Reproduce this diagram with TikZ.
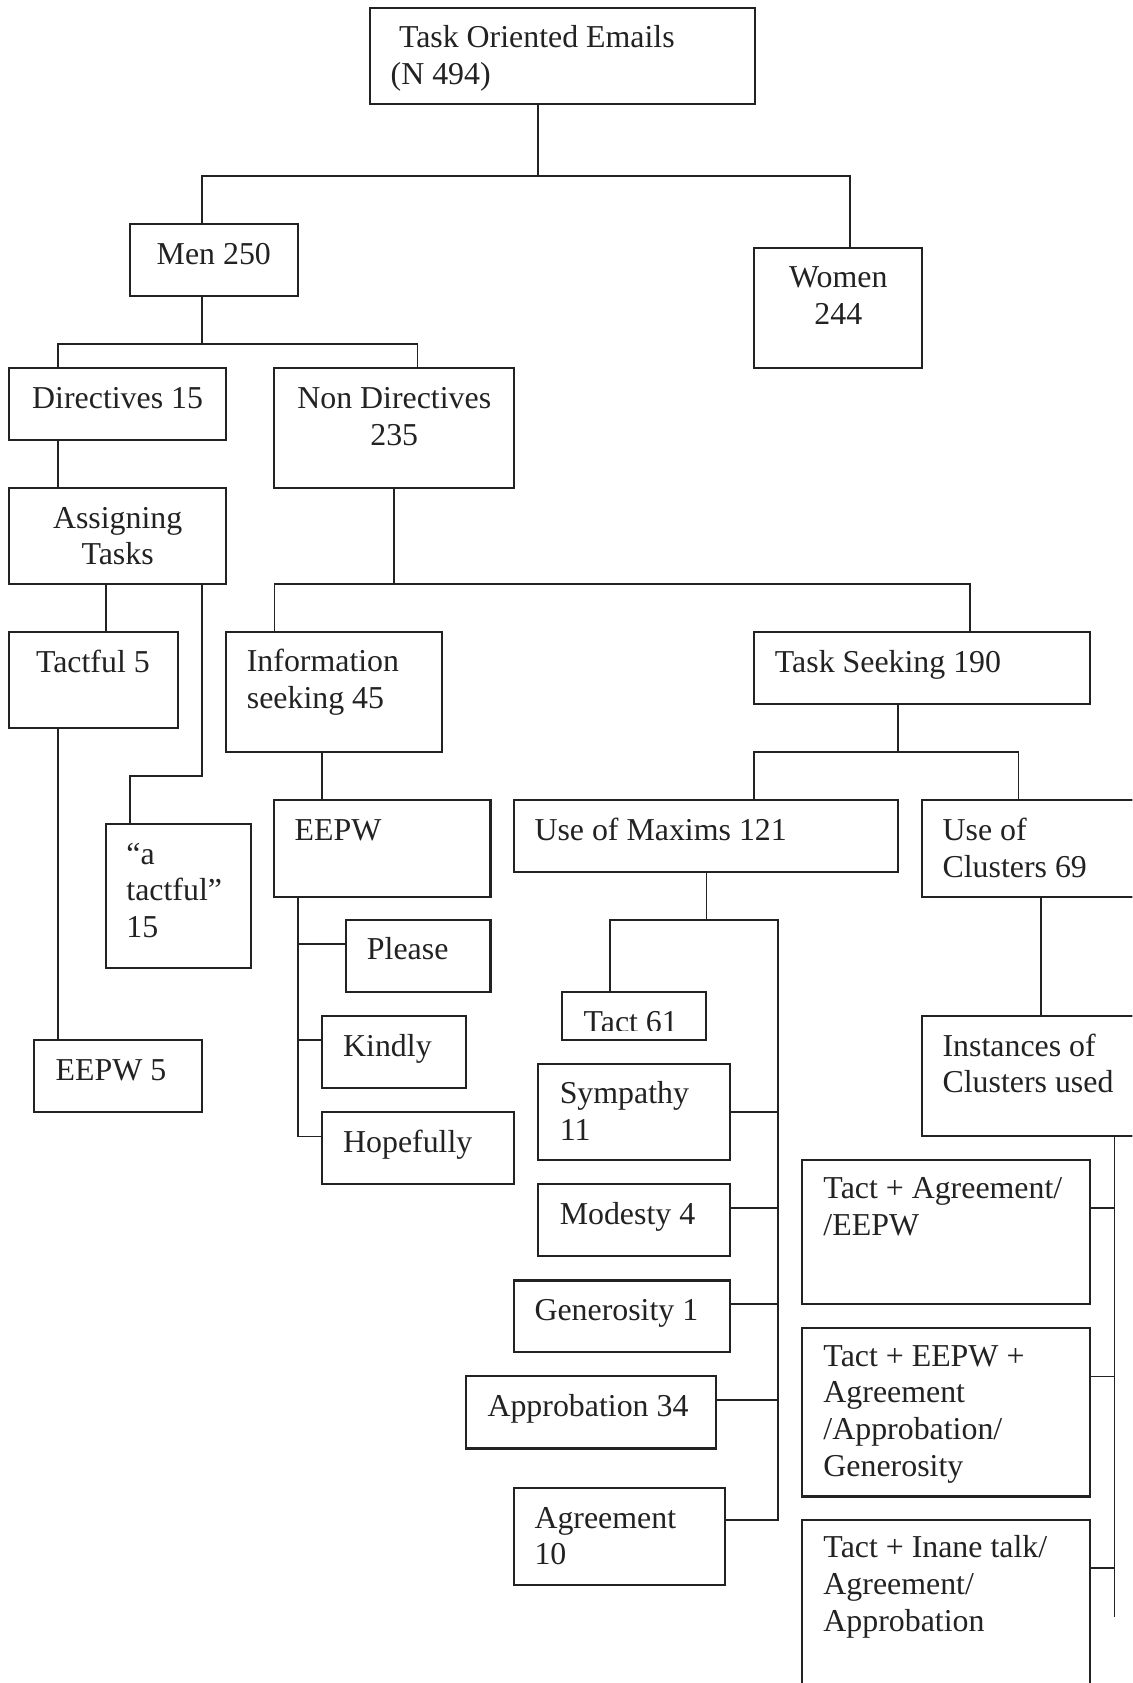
\documentclass[tikz,border=0pt]{standalone}
\usepackage{fontspec}
\setmainfont{Liberation Serif}
\definecolor{ink}{RGB}{34,34,34}
\newcommand{\dfont}{\fontsize{16.9}{19.4}\selectfont}
\newcommand{\mkbox}[5]{\node[bx, minimum width={(#4-#2)*0.02cm}, minimum height={(#5-#3)*0.02cm}] (#1) at ({(#2+#4)/2},{(#3+#5)/2}) {};}
\newcommand{\txtL}[4]{\node[lbl, anchor=north west, align=left] (#1) at (#2,{#3-22.85}) {\rule{0pt}{13pt}#4};}
\newcommand{\txtC}[4]{\node[lbl, anchor=north, align=center] (#1) at (#2,{#3-22.85}) {\rule{0pt}{13pt}#4};}
\begin{document}
\begin{tikzpicture}[x=0.02cm, y=-0.02cm,
  bx/.style={draw=ink, line width=1.1pt, inner sep=0pt, outer sep=0pt},
  lbl/.style={inner sep=0pt, outer sep=0pt, font=\dfont, text=ink},
  conn/.style={draw=ink, line width=0.9pt}]
\useasboundingbox (0,0) rectangle (1055,1568);
\fill[white] (0,0) rectangle (1055,1568);
\clip (0,0) rectangle (1055,1568);

% boxes
\mkbox{top}{344.8}{7.1}{703.2}{96.6}
\mkbox{men}{121}{208.6}{277.4}{275.7}
\mkbox{women}{702.6}{230.7}{859.4}{342.7}
\mkbox{dir}{8.7}{342.7}{210.6}{409.8}
\mkbox{nondir}{255.7}{342.7}{479}{454.7}
\mkbox{assign}{8.7}{454.7}{210.6}{544.2}
\mkbox{tactful}{8.7}{588.6}{166.2}{678.4}
\mkbox{info}{210.6}{588.6}{411.8}{700.9}
\mkbox{taskseek}{702.6}{588.6}{1015.5}{656.3}
\mkbox{atact}{98.9}{767.6}{233.5}{902}
\mkbox{eepw}{255.7}{745.5}{457}{835.3}
\mkbox{maxims}{479.1}{745.5}{836.5}{812.5}
\mkbox{clusters}{859.4}{745.5}{1090}{835.3}
\mkbox{please}{322.3}{857.1}{457}{924.5}
\mkbox{kindly}{300.1}{946.6}{434}{1013.7}
\mkbox{hopefully}{300.1}{1036.1}{479.1}{1103.5}
\mkbox{eepwfive}{31.6}{969.1}{188.4}{1036.1}
\mkbox{tact}{523.6}{923.8}{658.1}{969.1}
\mkbox{symp}{501.3}{991.6}{680.3}{1080.6}
\mkbox{modesty}{501.3}{1103.5}{680.3}{1170}
\mkbox{gener}{479.1}{1193}{680.3}{1259.8}
\mkbox{approb}{434}{1282.3}{667}{1349.5}
\mkbox{agree}{479.1}{1386.6}{675.6}{1476.3}
\mkbox{inst}{859.4}{946.6}{1090}{1058.2}
\mkbox{cA}{747.6}{1080.6}{1015.5}{1215.1}
\mkbox{cB}{747.6}{1237.6}{1015.5}{1394.2}
\mkbox{cC}{747.6}{1416.4}{1015.5}{1620}

% texts
\txtL{topt}{364}{44.5}{\hspace*{4.4pt}Task Oriented Emails\\(N 494)}
\txtC{ment}{199.2}{246}{Men 250}
\txtC{woment}{781}{268}{Women\\244}
\txtC{dirt}{109.6}{381}{Directives 15}
\txtC{nondirt}{367.3}{381}{Non Directives\\235}
\txtC{assignt}{109.6}{492}{Assigning\\Tasks}
\txtL{tactfult}{33.6}{626.5}{Tactful 5}
\txtL{infot}{230}{626}{Information\\seeking 45}
\txtL{taskseekt}{722}{626.5}{Task Seeking 190}
\txtL{atactt}{117.8}{805}{“a\\tactful”\\15}
\txtL{eepwt}{274.6}{783}{EEPW}
\txtL{maximst}{498}{783}{Use of Maxims 121}
\txtL{clusterst}{878.2}{783}{Use of\\Clusters 69}
\txtL{pleaset}{341.9}{894}{Please}
\txtL{kindlyt}{319.7}{984}{Kindly}
\txtL{hopefullyt}{319.7}{1073.7}{Hopefully}
\txtL{eepwfivet}{51.8}{1006.5}{EEPW 5}
\begin{scope}
\clip (523.6,923.8) rectangle (658.1,960.5);
\txtL{tactt}{543.7}{961.5}{Tact 61}
\end{scope}
\txtL{sympt}{521.5}{1028.5}{Sympathy\\11}
\txtL{modestyt}{521.5}{1140.6}{Modesty 4}
\txtL{genert}{498}{1230.3}{Generosity 1}
\txtL{approbt}{454.2}{1319.7}{Approbation 34}
\txtL{agreet}{498}{1423.7}{Agreement\\10}
\txtL{instt}{878.2}{984}{Instances of\\Clusters used}
\txtL{cAt}{767.2}{1117}{Tact + Agreement/\\/EEPW}
\txtL{cBt}{767.2}{1273}{Tact + EEPW +\\Agreement\\/Approbation/\\Generosity}
\txtL{cCt}{767.2}{1451.4}{Tact + Inane talk/\\Agreement/\\Approbation}

% connectors
\draw[conn] (501.3,0 |- top.south) -- (501.3,164);
\draw[conn] (188.4,0 |- men.north) |- (792,164) -- (792,0 |- women.north);
\draw[conn] (188.4,0 |- men.south) -- (188.4,320.3);
\draw[conn] (53.8,0 |- dir.north) |- (389,320.3) -- (389,0 |- nondir.north);
\draw[conn] (53.8,0 |- dir.south) -- (53.8,0 |- assign.north);
\draw[conn] (98.9,0 |- assign.south) -- (98.9,0 |- tactful.north);
\draw[conn] (188.4,0 |- assign.south) |- (121.1,723) -- (121.1,0 |- atact.north);
\draw[conn] (53.8,0 |- tactful.south) -- (53.8,0 |- eepwfive.north);
\draw[conn] (366.8,0 |- nondir.south) -- (366.8,544.2);
\draw[conn] (255.7,0 |- info.north) |- (903.8,544.2) -- (903.8,0 |- taskseek.north);
\draw[conn] (300.1,0 |- info.south) -- (300.1,0 |- eepw.north);
\draw[conn] (277.9,0 |- eepw.south) -- (277.9,1058.8) -- (hopefully.west |- 0,1058.8);
\draw[conn] (277.9,879.2) -- (please.west |- 0,879.2);
\draw[conn] (277.9,969.1) -- (kindly.west |- 0,969.1);
\draw[conn] (836.5,0 |- taskseek.south) -- (836.5,700.9);
\draw[conn] (702.6,0 |- maxims.north) |- (948.9,700.9) -- (948.9,0 |- clusters.north);
\draw[conn] (658.1,0 |- maxims.south) -- (658.1,857.1);
\draw[conn] (568.6,0 |- tact.north) |- (724.8,857.1) -- (724.8,1416) -- (agree.east |- 0,1416);
\draw[conn] (symp.east |- 0,1036.3) -- (724.8,1036.3);
\draw[conn] (modesty.east |- 0,1125.7) -- (724.8,1125.7);
\draw[conn] (gener.east |- 0,1215) -- (724.8,1215);
\draw[conn] (approb.east |- 0,1304.5) -- (724.8,1304.5);
\draw[conn] (969.7,0 |- clusters.south) -- (969.7,0 |- inst.north);
\coordinate (clend) at (1038.4,1506.1);
\draw[conn] (1038.4,0 |- inst.south) -- (clend);
\draw[conn] (cA.east |- 0,1125.7) -- (1038.4,1125.7);
\draw[conn] (cB.east |- 0,1282.3) -- (1038.4,1282.3);
\draw[conn] (cC.east |- 0,1461.1) -- (1038.4,1461.1);
\end{tikzpicture}
\end{document}
